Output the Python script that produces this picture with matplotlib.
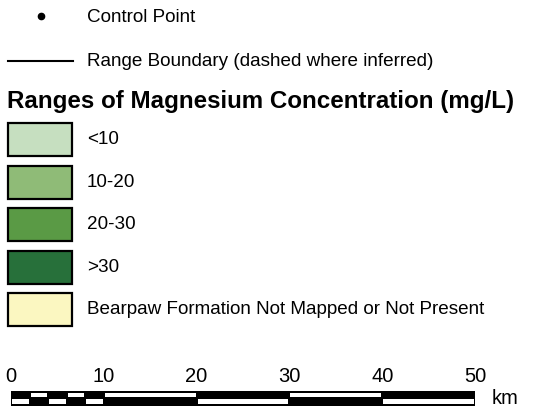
import matplotlib.pyplot as plt
from matplotlib.patches import Rectangle

plt.rcParams['font.family'] = ['Liberation Sans', 'DejaVu Sans']

# legend entries
title = "Ranges of Magnesium Concentration (mg/L)"
range_labels = ["<10", "10-20", "20-30", ">30", "Bearpaw Formation Not Mapped or Not Present"]
range_colors = ["#c6dfc0", "#8fbb77", "#5a9a45", "#27703a", "#fbf7c1"]

# scale bar (km)
scale_ticks = [0, 10, 20, 30, 40, 50]
scale_breaks = [0, 2, 4, 6, 8, 10, 20, 30, 40, 50]

W, H = 547, 412
fig = plt.figure(figsize=(W / 100, H / 100), dpi=100)
ax = fig.add_axes([0, 0, 1, 1])
ax.set_xlim(0, W)
ax.set_ylim(H, 0)
ax.axis("off")

fs = 13.6

# control point + boundary line
ax.plot([41], [16], "o", color="k", markersize=4.5)
ax.text(87, 17, "Control Point", fontsize=fs, va="center")
ax.plot([8, 73], [61, 61], color="k", linewidth=1.5)
ax.text(87, 61, "Range Boundary (dashed where inferred)", fontsize=fs, va="center")

ax.text(7, 101, title, fontsize=17.4, fontweight="bold", va="center")

# swatches
for i, (lab, col) in enumerate(zip(range_labels, range_colors)):
    y0 = 123 + i * 42.5
    ax.add_patch(Rectangle((7.5, y0), 64.5, 33, facecolor=col, edgecolor="k", linewidth=1.6))
    ax.text(87, y0 + 16.5, lab, fontsize=fs, va="center")

# scale bar
x0, x1 = 11, 475
k = (x1 - x0) / 50.0
yt, yb = 391, 406
ax.add_patch(Rectangle((x0, yt), x1 - x0, yb - yt, facecolor="k", edgecolor="none"))
for j in range(len(scale_breaks) - 1):
    a = x0 + scale_breaks[j] * k + 1
    b = x0 + scale_breaks[j + 1] * k - 1
    if j % 2 == 1:
        ax.add_patch(Rectangle((a, 392.5), b - a, 4.2, facecolor="w", edgecolor="none"))
    else:
        ax.add_patch(Rectangle((a, 399.3), b - a, 4.2, facecolor="w", edgecolor="none"))
for t in scale_ticks:
    ax.text(x0 + t * k, 376, str(t), fontsize=14.5, ha="center", va="center")
ax.text(492, 399, "km", fontsize=14.5, va="center")

fig.savefig("out.png", dpi=100)
